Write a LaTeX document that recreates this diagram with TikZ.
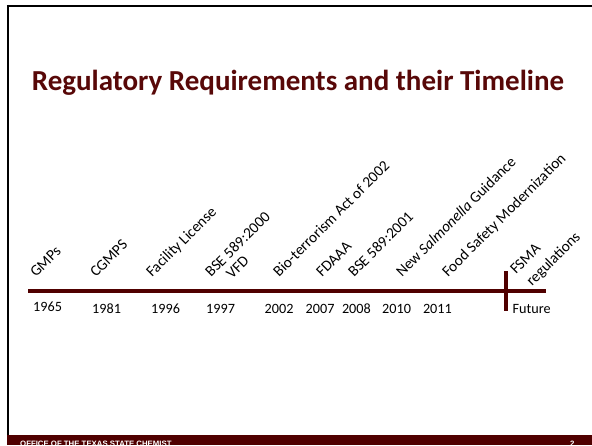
\documentclass[tikz,border=0pt]{standalone}
\usepackage{fontspec}
\setmainfont{Carlito}
\newfontfamily\footfont{Liberation Sans}
\definecolor{maroon}{RGB}{80,0,0}
\definecolor{titlered}{RGB}{88,8,8}
\tikzset{
  lbl/.style={rotate=45, anchor=base west, inner sep=0pt, font=\fontsize{15.3}{18}\selectfont, text=black},
  yr/.style={anchor=base west, inner sep=0pt, font=\fontsize{14.2}{16}\selectfont, text=black},
  frameline/.style={line width=2.5pt, black},
}
\begin{document}
\begin{tikzpicture}[x=1pt,y=-1pt]
\useasboundingbox (0,0) rectangle (592,445);
\clip (0,0) rectangle (592,445);
\fill[white] (0,0) rectangle (592,445);
% frame
\draw[frameline] (6.8,6) -- (592,6);
\draw[frameline] (8,4.8) -- (8,436);
% footer
\fill[maroon] (6.8,435) rectangle (592,445);
\node[anchor=base west, inner sep=0pt, text=white, font=\footfont\bfseries\fontsize{7.8}{9}\selectfont] (foot) at (20,446.5) {OFFICE OF THE TEXAS STATE CHEMIST};
\node[anchor=base west, inner sep=0pt, text=white, font=\footfont\bfseries\fontsize{7.8}{9}\selectfont] (page) at (570,446.5) {2};
% title
\node[anchor=base, inner sep=0pt, text=titlered, font=\bfseries\fontsize{29}{34}\selectfont] (title) at (298,90.5) {Regulatory Requirements and their Timeline};
% timeline
\coordinate (tl0) at (28,291);
\coordinate (tl1) at (546,291);
\coordinate (tk0) at (506,271);
\coordinate (tk1) at (506,311);
\draw[maroon, line width=3.6pt] (tl0) -- (tl1);
\draw[maroon, line width=4pt] (tk0) -- (tk1);
% years
\node[yr] (y1965) at (33,311) {1965};
\node[yr] (y1981) at (92,313) {1981};
\node[yr] (y1996) at (151,313) {1996};
\node[yr] (y1997) at (206,313) {1997};
\node[yr] (y2002) at (264.5,313) {2002};
\node[yr] (y2007) at (305.5,313) {2007};
\node[yr] (y2008) at (341.8,313) {2008};
\node[yr] (y2010) at (382,313) {2010};
\node[yr] (y2011) at (422.8,313) {2011};
\node[yr] (yfut) at (512.5,313) {Future};
% labels
\node[lbl] (gmp) at (36,278) {GMPs};
\node[lbl] (cgmp) at (96,278) {CGMPS};
\node[lbl] (fac) at (152,278) {Facility License};
\node[lbl] (bse1) at (211,278) {BSE 589:2000};
\node[lbl] (vfd) at (232,280) {VFD};
\node[lbl] (bio) at (279,278) {Bio-terrorism Act of 2002};
\node[lbl] (fdaaa) at (322,278) {FDAAA};
\node[lbl] (bse2) at (354,278) {BSE 589:2001};
\node[lbl] (salm) at (402,278) {New \textit{Salmonella} Guidance};
\node[lbl] (fsm) at (448,278) {Food Safety Modernization};
\node[lbl] (fsma) at (516,275) {FSMA};
\node[lbl] (reg) at (532,287) {regulations};
\end{tikzpicture}
\end{document}
